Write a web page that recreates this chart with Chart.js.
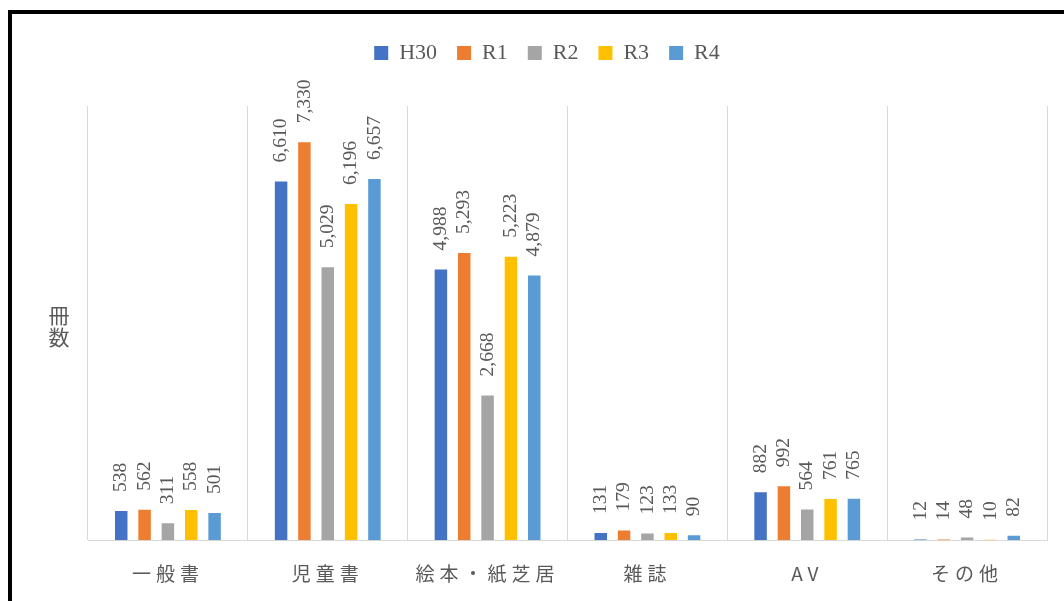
<!DOCTYPE html>
<html>
<head>
<meta charset="utf-8">
<script src="https://cdn.jsdelivr.net/npm/chart.js@4/dist/chart.umd.min.js"></script>
<style>
  html, body { margin: 0; padding: 0; background: #fff; overflow: hidden; }
  #frame {
    position: absolute; left: 8px; top: 10px;
    width: 1100px; height: 640px;
    border: 4px solid #000;
  }
  #wrap { position: absolute; left: 0; top: 0; width: 1064px; height: 601px; }
</style>
</head>
<body>
<div id="frame"></div>
<div id="wrap"><canvas id="barChart"></canvas></div>
<script>
// categories and series
const categories = ['一般書', '児童書', '絵本・紙芝居', '雑誌', 'AV', 'その他'];
const seriesNames = ['H30', 'R1', 'R2', 'R3', 'R4'];
const h30 = [538, 6610, 4988, 131, 882, 12];
const r1 = [562, 7330, 5293, 179, 992, 14];
const r2 = [311, 5029, 2668, 123, 564, 48];
const r3 = [558, 6196, 5223, 133, 761, 10];
const r4 = [501, 6657, 4879, 90, 765, 82];
const yMax = 8000;
const axisTitle = ['冊', '数'];

const colors = ['#4472C4', '#ED7D31', '#A5A5A5', '#FFC000', '#5B9BD5'];
const values = [h30, r1, r2, r3, r4];

const textGray = '#595959';

// rotated value labels + letter spacing for category labels
const barLabels = {
    id: 'barLabels',
    afterDatasetsDraw(chart) {
        const ctx = chart.ctx;
        ctx.save();
        ctx.font = '19.5px "Liberation Serif"';
        ctx.fillStyle = textGray;
        ctx.textAlign = 'left';
        ctx.textBaseline = 'middle';
        chart.data.datasets.forEach((ds, i) => {
            const meta = chart.getDatasetMeta(i);
            meta.data.forEach((bar, j) => {
                ctx.save();
                ctx.translate(bar.x, bar.y - 19);
                ctx.rotate(-Math.PI / 2);
                ctx.fillText(ds.data[j].toLocaleString('en-US'), 0, 0);
                ctx.restore();
            });
        });
        ctx.restore();
        // x tick labels are drawn after this (ticks z:1)
        ctx.letterSpacing = '5px';
    },
    afterDraw(chart) {
        const ctx = chart.ctx;
        ctx.letterSpacing = '0px';
        // vertical axis title, one character per line
        ctx.save();
        ctx.font = '21px "Noto Sans CJK JP"';
        ctx.fillStyle = textGray;
        ctx.textAlign = 'center';
        ctx.textBaseline = 'middle';
        axisTitle.forEach((ch, k) => {
            ctx.fillText(ch, 59, 315 + k * 22);
        });
        ctx.restore();
    }
};

const legendGap = {
    id: 'legendGap',
    beforeInit(chart) {
        const fit = chart.legend.fit;
        chart.legend.fit = function () {
            fit.bind(chart.legend)();
            this.height += 32;
        };
    }
};

new Chart(document.getElementById('barChart'), {
    type: 'bar',
    data: {
        labels: categories,
        datasets: seriesNames.map((name, i) => ({
            label: name,
            data: values[i],
            backgroundColor: colors[i],
            categoryPercentage: 0.73,
            barPercentage: 0.535
        }))
    },
    options: {
        responsive: true,
        maintainAspectRatio: false,
        animation: false,
        layout: { padding: { left: 47, right: 17, top: 22, bottom: -6 } },
        plugins: {
            legend: {
                position: 'top',
                labels: {
                    font: { family: '"Liberation Serif"', size: 22 },
                    color: textGray,
                    boxWidth: 14,
                    boxHeight: 14,
                    padding: 20
                }
            },
            tooltip: { enabled: false }
        },
        scales: {
            x: {
                grid: { color: '#d9d9d9', lineWidth: 1, drawTicks: false, offset: true },
                border: { color: '#d9d9d9', width: 1 },
                ticks: {
                    z: 1,
                    padding: 22,
                    color: textGray,
                    font: { family: '"Noto Sans CJK JP"', size: 19 },
                    maxRotation: 0
                }
            },
            y: {
                min: 0,
                max: yMax,
                grid: { display: false },
                border: { display: false },
                ticks: { display: false },
                afterFit(scale) { scale.width = 41; }
            }
        }
    },
    plugins: [legendGap, barLabels]
});
</script>
</body>
</html>
